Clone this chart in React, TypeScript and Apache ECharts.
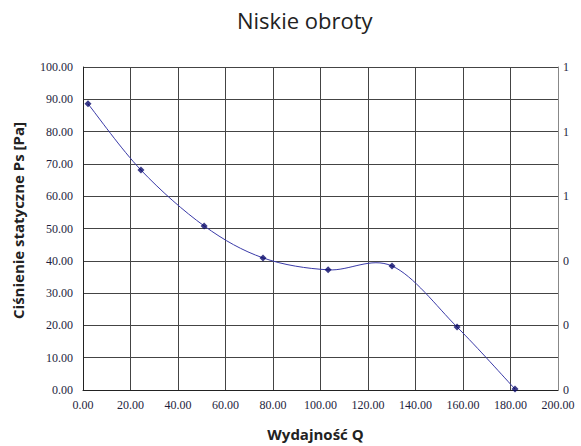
import React, { useEffect, useRef } from "react";
import * as echarts from "echarts";

const flowQ = [2.1, 24.4, 51.0, 75.8, 103.2, 130.1, 157.5, 181.9];
const pressurePs = [88.6, 68.1, 50.8, 40.9, 37.2, 38.4, 19.5, 0.3];
const titleText = "Niskie obroty";
const xName = "Wydajność Q";
const yName = "Ciśnienie statyczne Ps [Pa]";

export default function App() {
  const ref = useRef<HTMLDivElement>(null);
  useEffect(() => {
    document.body.style.margin = "0";
    const chart = echarts.init(ref.current!, null, { renderer: "svg" });
    const labelFont = { fontFamily: "Liberation Serif", fontSize: 12, color: "#1e1e3c" };
    const points = flowQ.map((q, i) => [q, pressurePs[i]]);
    chart.setOption({
      animation: false,
      backgroundColor: "#ffffff",
      title: {
        text: titleText,
        left: 232,
        top: 4,
        textStyle: { fontFamily: "Open Sans", fontSize: 22, fontWeight: "normal", color: "#222" },
      },
      grid: { left: 83, right: 23, top: 67, bottom: 56 },
      xAxis: {
        type: "value",
        min: 0,
        max: 200,
        interval: 20,
        name: xName,
        nameLocation: "middle",
        nameGap: 36,
        nameTextStyle: { fontFamily: "Open Sans", fontSize: 15, fontWeight: "bold", color: "#222", padding: [0, 10, 0, 0] },
        axisLine: { show: true, lineStyle: { color: "#222", width: 1 } },
        axisTick: { show: false },
        axisLabel: { ...labelFont, margin: 9, formatter: (v: number) => v.toFixed(2) },
        splitLine: { show: true, lineStyle: { color: "#444", width: 1 } },
      },
      yAxis: [
        {
          type: "value",
          min: 0,
          max: 100,
          interval: 10,
          name: yName,
          nameLocation: "middle",
          nameGap: 58,
          nameTextStyle: { fontFamily: "Open Sans", fontSize: 15, fontWeight: "bold", color: "#222", padding: [0, 0, 0, 16] },
          axisLine: { show: true, lineStyle: { color: "#222", width: 1 } },
          axisTick: { show: false },
          axisLabel: { ...labelFont, margin: 10, formatter: (v: number) => v.toFixed(2) },
          splitLine: { show: true, lineStyle: { color: "#444", width: 1 } },
        },
        {
          type: "value",
          min: 0,
          max: 1,
          interval: 0.2,
          position: "right",
          axisLine: { show: true, lineStyle: { color: "#888", width: 1 } },
          axisTick: { show: false },
          axisLabel: { ...labelFont, margin: 5, formatter: (v: number) => String(Math.round(v)) },
          splitLine: { show: false },
        },
      ],
      series: [
        {
          type: "custom",
          data: [0],
          clip: true,
          silent: true,
          renderItem: (params: any, api: any) => {
            if (params.dataIndex !== 0) return null;
            const px = points.map((p) => api.coord(p));
            const n = px.length;
            let d = `M${px[0][0]},${px[0][1]}`;
            for (let i = 0; i < n - 1; i++) {
              const p0 = px[Math.max(i - 1, 0)];
              const p1 = px[i];
              const p2 = px[i + 1];
              const p3 = px[Math.min(i + 2, n - 1)];
              const c1x = p1[0] + (p2[0] - p0[0]) / 6;
              const c1y = p1[1] + (p2[1] - p0[1]) / 6;
              const c2x = p2[0] - (p3[0] - p1[0]) / 6;
              const c2y = p2[1] - (p3[1] - p1[1]) / 6;
              d += ` C${c1x},${c1y} ${c2x},${c2y} ${p2[0]},${p2[1]}`;
            }
            return {
              type: "path",
              shape: { pathData: d },
              style: { fill: "none", stroke: "#3a3aa8", lineWidth: 1 },
            };
          },
        },
        {
          type: "scatter",
          data: points,
          symbol: "diamond",
          symbolSize: 7,
          itemStyle: { color: "#0a0a6a" },
        },
      ],
    });
    return () => chart.dispose();
  }, []);
  return <div ref={ref} style={{ width: 581, height: 446 }} />;
}
